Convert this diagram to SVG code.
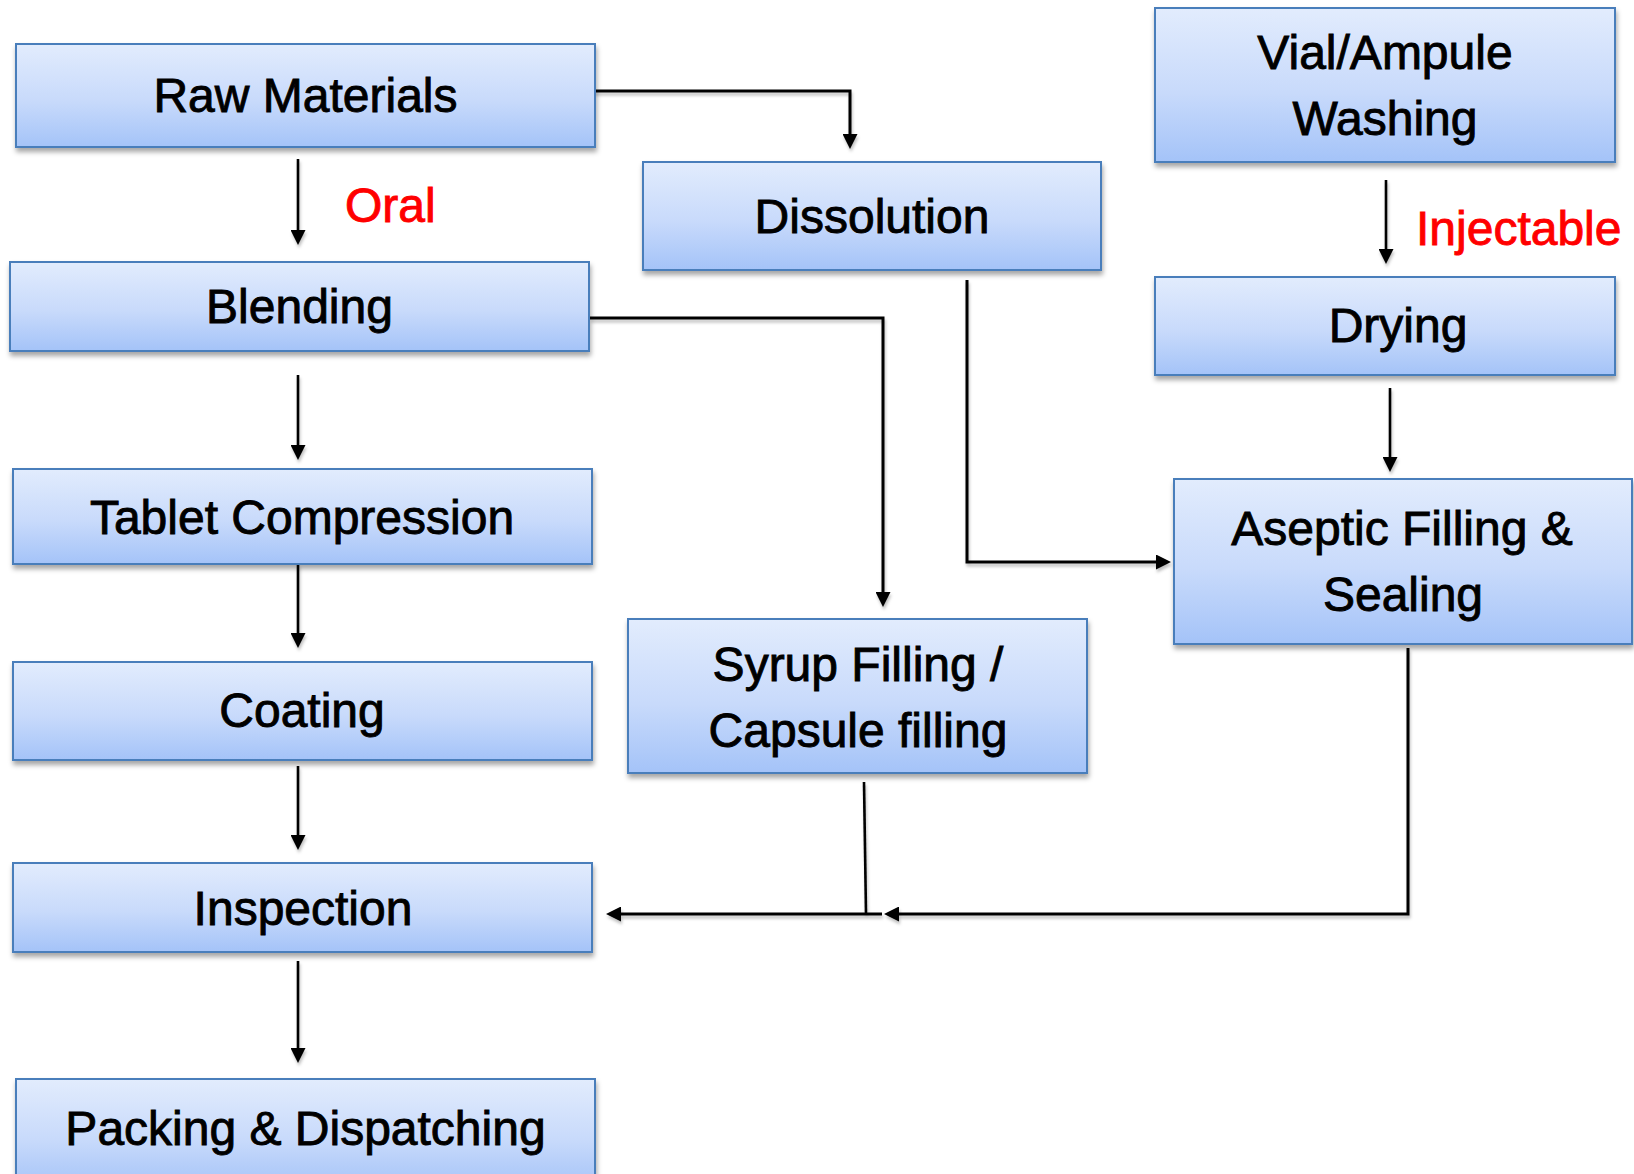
<svg xmlns="http://www.w3.org/2000/svg" width="1634" height="1174" viewBox="0 0 1634 1174">
<style>
.box{fill:url(#g);stroke:#4A7EBB;stroke-width:2;filter:url(#sh)}
.t{font-family:"Liberation Sans",Arial,Helvetica,sans-serif;font-size:48px;fill:#000;stroke:#000;stroke-width:0.9px;text-anchor:middle}
.lbl{font-family:"Liberation Sans",Arial,Helvetica,sans-serif;font-size:48px;fill:#FF0000;stroke:#FF0000;stroke-width:0.9px}
.c{fill:none;stroke:#000;stroke-width:3;stroke-linejoin:miter}
.c2{fill:none;stroke:#000;stroke-width:2.6}
.a{marker-end:url(#ah)}
</style>
<defs>
<linearGradient id="g" x1="0" y1="0" x2="0" y2="1">
<stop offset="0" stop-color="#E2ECFD"/>
<stop offset="0.55" stop-color="#C8DAFB"/>
<stop offset="1" stop-color="#A4C3F8"/>
</linearGradient>
<filter id="sh" x="-5%" y="-10%" width="110%" height="130%">
<feDropShadow dx="1" dy="4" stdDeviation="2.5" flood-color="#000" flood-opacity="0.35"/>
</filter>
<filter id="lsh" x="-5%" y="-5%" width="110%" height="110%">
<feDropShadow dx="1" dy="3" stdDeviation="1.5" flood-color="#000" flood-opacity="0.25"/>
</filter>
<marker id="ah" viewBox="0 0 15 15" refX="5" refY="7.5" markerWidth="15" markerHeight="15" markerUnits="userSpaceOnUse" orient="auto">
<path d="M0,0 L15,7.5 L0,15 Z" fill="#000"/>
</marker>
</defs>
<rect width="1634" height="1174" fill="#fff"/>

<g id="connectors" filter="url(#lsh)">
<path class="c2 a" d="M298,159 V235"/>
<path class="c2 a" d="M298,375 V450"/>
<path class="c2 a" d="M298,564 V638"/>
<path class="c2 a" d="M298,766 V840"/>
<path class="c2 a" d="M298,961 V1053"/>
<path class="c a" d="M594,91 H850 V139"/>
<path class="c a" d="M590,318 H883 V597"/>
<path class="c a" d="M967,280 V562 H1161"/>
<path class="c2 a" d="M1386,180 V254"/>
<path class="c2 a" d="M1390,388 V462"/>
<path class="c2" d="M864,782 L866,914"/>
<path class="c a" d="M882,914 H616"/>
<path class="c a" d="M1408,648 V914 H894"/>
</g>

<g id="raw-materials">
<rect class="box" x="16" y="44" width="579" height="103"/>
<text class="t" x="305.5" y="112">Raw Materials</text>
</g>
<g id="label-oral">
<text class="lbl" x="345" y="222">Oral</text>
</g>
<g id="blending">
<rect class="box" x="10" y="262" width="579" height="89"/>
<text class="t" x="299.5" y="323">Blending</text>
</g>
<g id="tablet-compression">
<rect class="box" x="13" y="469" width="579" height="95"/>
<text class="t" x="302" y="534">Tablet Compression</text>
</g>
<g id="coating">
<rect class="box" x="13" y="662" width="579" height="98"/>
<text class="t" x="302" y="727">Coating</text>
</g>
<g id="inspection">
<rect class="box" x="13" y="863" width="579" height="89"/>
<text class="t" x="303" y="925">Inspection</text>
</g>
<g id="packing-dispatching">
<rect class="box" x="16" y="1079" width="579" height="110"/>
<text class="t" x="305.5" y="1145">Packing &amp; Dispatching</text>
</g>
<g id="dissolution">
<rect class="box" x="643" y="162" width="458" height="108"/>
<text class="t" x="872" y="233">Dissolution</text>
</g>
<g id="syrup-capsule-filling">
<rect class="box" x="628" y="619" width="459" height="154"/>
<text class="t" x="858" y="681">Syrup Filling /</text>
<text class="t" x="858" y="747">Capsule filling</text>
</g>
<g id="vial-ampule-washing">
<rect class="box" x="1155" y="8" width="460" height="154"/>
<text class="t" x="1385" y="69">Vial/Ampule</text>
<text class="t" x="1385" y="135">Washing</text>
</g>
<g id="label-injectable">
<text class="lbl" x="1416" y="245">Injectable</text>
</g>
<g id="drying">
<rect class="box" x="1155" y="277" width="460" height="98"/>
<text class="t" x="1398" y="342">Drying</text>
</g>
<g id="aseptic-filling-sealing">
<rect class="box" x="1174" y="479" width="458" height="165"/>
<text class="t" x="1402" y="545">Aseptic Filling &amp;</text>
<text class="t" x="1403" y="611">Sealing</text>
</g>
</svg>
